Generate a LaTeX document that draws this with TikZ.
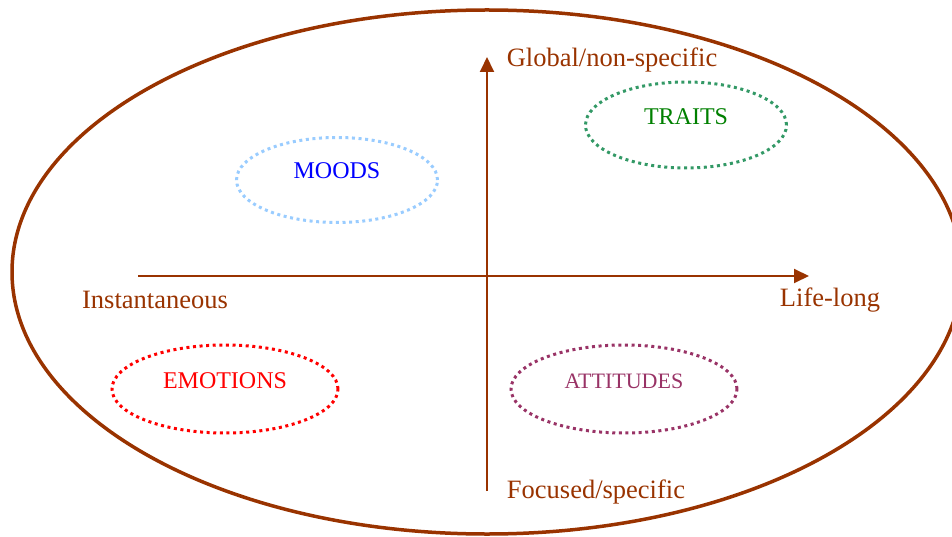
\documentclass[tikz,border=0pt]{standalone}
\usepackage{fontspec}
\setmainfont{Liberation Serif}
\usetikzlibrary{arrows.meta,shapes.geometric}
\definecolor{axbrown}{HTML}{993300}
\definecolor{moodblue}{HTML}{99CCFF}
\definecolor{traitgreen}{HTML}{339966}
\definecolor{attplum}{HTML}{993366}
\tikzset{
  axis/.style={draw=axbrown, line width=1.9pt, -{Triangle[length=15pt,width=14pt]}},
  axlabel/.style={text=axbrown, font=\fontsize{26.5}{30}\selectfont, inner sep=0pt},
  dotell/.style={ellipse, line width=3pt, dash pattern=on 3pt off 3.6pt, inner sep=0pt, minimum width=#1},
  ellabel/.style={font=\fontsize{24}{28}\selectfont, inner sep=0pt}
}
\begin{document}
\begin{tikzpicture}[x=1pt,y=-1pt]
\useasboundingbox (0,0) rectangle (952,537);
\clip (0,0) rectangle (952,537);
\node[draw=axbrown, line width=3.5pt, ellipse, minimum width=950pt, minimum height=524pt, inner sep=0pt] (outer) at (487,272) {};
% axes
\coordinate (hstart) at (138,276);
\coordinate (hend) at (809,276);
\coordinate (vstart) at (487,491);
\coordinate (vend) at (487,57);
\draw[axis] (hstart) -- (hend);
\draw[axis] (vstart) -- (vend);
% axis labels
\node[axlabel] (glob) at (612,60) {Global/non-specific};
\node[axlabel] (foc) at (596,492) {Focused/specific};
\node[axlabel] (inst) at (155,300) {Instantaneous};
\node[axlabel] (life) at (830,300) {Life-long};
% dotted ellipses
\node[dotell=201pt, minimum height=85pt, draw=moodblue] (moodsE) at (337,180) {};
\node[ellabel, text=blue] (moods) at (337,171) {MOODS};
\node[dotell=201pt, minimum height=86pt, draw=traitgreen] (traitsE) at (686,125) {};
\node[ellabel, text={rgb,255:red,0;green,128;blue,0}] (traits) at (686,117) {TRAITS};
\node[dotell=226pt, minimum height=88pt, draw=red] (emoE) at (225,389) {};
\node[ellabel, text=red] (emo) at (225,381) {EMOTIONS};
\node[dotell=226pt, minimum height=88pt, draw=attplum] (attE) at (624,389) {};
\node[ellabel, text=attplum, font=\fontsize{22}{26}\selectfont] (att) at (624,381) {ATTITUDES};
\end{tikzpicture}
\end{document}
